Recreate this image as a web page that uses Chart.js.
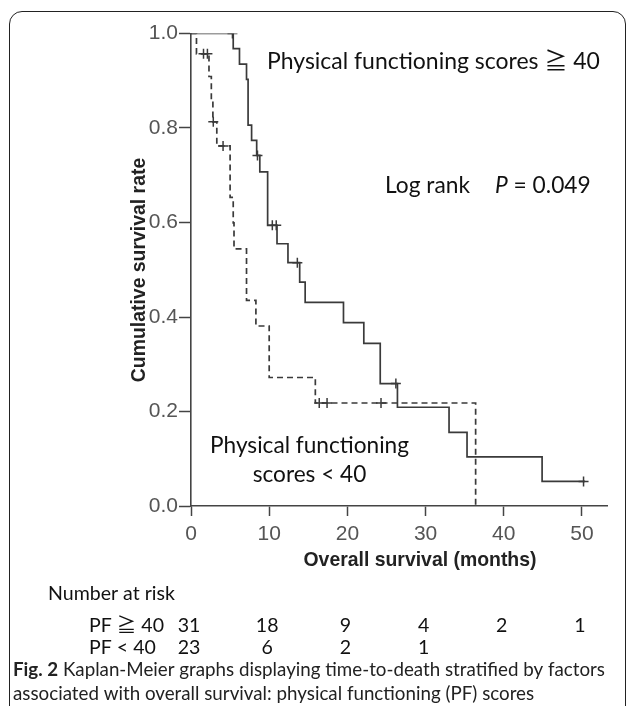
<!DOCTYPE html>
<html><head><meta charset="utf-8">
<script src="https://cdn.jsdelivr.net/npm/chart.js@4.4.1/dist/chart.umd.min.js"></script>
<style>
html,body{margin:0;padding:0;background:#fff;width:627px;height:706px;overflow:hidden;}
#wrap{position:relative;width:627px;height:706px;}
#frame{position:absolute;left:9px;top:11px;width:617px;height:760px;box-sizing:border-box;border:1.6px solid #222;border-radius:13px;}
canvas{position:absolute;left:0;top:0;}
</style></head><body>
<div id="wrap"><div id="frame"></div><canvas id="c" width="627" height="706"></canvas></div>
<script>
// ---- data ----
const highTimes = [0, 5.4, 6.2, 7.1, 7.3, 7.75, 8.4, 8.8, 9.8, 11.0, 12.4, 13.9, 14.6, 19.5, 22.1, 24.2, 26.4, 33.0, 35.3, 44.9, 50.4];
const highSurv  = [1.0, 0.968, 0.935, 0.903, 0.806, 0.774, 0.742, 0.707, 0.594, 0.555, 0.515, 0.474, 0.431, 0.388, 0.344, 0.259, 0.209, 0.156, 0.104, 0.052, 0.052];
const highCensorTimes = [5.3, 8.5, 10.4, 10.9, 13.6, 26.2, 50.2];
const highCensorSurv  = [1.0, 0.742, 0.594, 0.594, 0.515, 0.259, 0.052];

const lowTimes = [0, 0.7, 2.3, 2.6, 2.8, 3.3, 5.0, 5.4, 5.5, 7.1, 8.3, 10.0, 15.9, 36.4];
const lowSurv  = [1.0, 0.957, 0.909, 0.861, 0.813, 0.762, 0.653, 0.599, 0.544, 0.435, 0.381, 0.272, 0.218, 0.0];
const lowCensorTimes = [1.6, 2.1, 2.85, 4.1, 16.4, 17.4, 24.3];
const lowCensorSurv  = [0.957, 0.957, 0.813, 0.762, 0.218, 0.218, 0.218];

const xTickValues = [0, 10, 20, 30, 40, 50];
const riskTimes = [0, 10, 20, 30, 40, 50];
const riskHigh = [31, 18, 9, 4, 2, 1];
const riskLow  = [23, 6, 2, 1];
const riskLabels = ["PF \u2267 40", "PF < 40"];

const textHighGroup = "Physical functioning scores \u2267 40";
const textLogRank = "Log rank";
const textP = "P";
const textPValue = " = 0.049";
const textLowGroup = ["Physical functioning", "scores < 40"];
const yTitle = "Cumulative survival rate";
const xTitle = "Overall survival (months)";
const riskTitle = "Number at risk";
const captionBold = "Fig. 2";
const captionLine1 = " Kaplan-Meier graphs displaying time-to-death stratified by factors";
const captionLine2 = "associated with overall survival: physical functioning (PF) scores";

// ---- helpers ----
const NARROW = "'Liberation Sans Narrow','Arial Narrow','Liberation Sans',Arial,sans-serif";
const HUM = "Lato,'Noto Sans CJK JP','DejaVu Sans',sans-serif";
function pts(xs, ys){ return xs.map((x,i)=>({x:x, y:ys[i]})); }
function fitSize(ctx, text, font, w){
  ctx.font = font.replace('SIZE','100px');
  return 100 * w / ctx.measureText(text).width;
}

const ink = '#3a3a3a';

const textPlugin = {
  id: 'texts',
  afterDraw(chart){
    const ctx = chart.ctx;
    const xs = chart.scales.x;
    ctx.save();
    ctx.textBaseline = 'middle';
    ctx.fillStyle = '#111';

    // group annotation (>= 40)
    let s = fitSize(ctx, textHighGroup, "400 SIZE " + HUM, 333);
    ctx.font = `400 ${s}px ${HUM}`;
    ctx.textAlign = 'left';
    ctx.fillText(textHighGroup, 267, 62);

    // log rank
    const sLR = fitSize(ctx, textLogRank, "400 SIZE " + HUM, 85);
    ctx.font = `400 ${sLR}px ${HUM}`;
    ctx.fillText(textLogRank, 385, 186);
    ctx.font = `italic 400 ${sLR}px ${HUM}`;
    ctx.fillText(textP, 495, 186);
    const pw = ctx.measureText(textP).width;
    ctx.font = `400 ${sLR}px ${HUM}`;
    ctx.fillText(textPValue, 495 + pw, 186);

    // group annotation (< 40)
    s = fitSize(ctx, textLowGroup[0], "400 SIZE " + HUM, 199);
    ctx.font = `400 ${s}px ${HUM}`;
    ctx.textAlign = 'center';
    ctx.fillText(textLowGroup[0], 309.5, 446);
    ctx.fillText(textLowGroup[1], 309.5, 475);

    // axis titles
    const sT = fitSize(ctx, xTitle, "700 SIZE " + NARROW, 233);
    ctx.font = `700 ${sT}px ${NARROW}`;
    ctx.fillStyle = '#222';
    ctx.textAlign = 'center';
    ctx.fillText(xTitle, 420, 561);
    ctx.save();
    ctx.translate(140, 270);
    ctx.rotate(-Math.PI/2);
    ctx.fillText(yTitle, 0, 0);
    ctx.restore();

    // number at risk table
    const sR = fitSize(ctx, riskTitle, "400 SIZE " + HUM, 127);
    ctx.font = `400 ${sR}px ${HUM}`;
    ctx.fillStyle = '#111';
    ctx.textAlign = 'left';
    ctx.fillText(riskTitle, 48, 594);
    ctx.fillText(riskLabels[0], 89, 626);
    ctx.fillText(riskLabels[1], 89, 648);
    ctx.textAlign = 'center';
    riskHigh.forEach((v,i)=>ctx.fillText(String(v), xs.getPixelForValue(riskTimes[i]) - 2, 626));
    riskLow.forEach((v,i)=>ctx.fillText(String(v), xs.getPixelForValue(riskTimes[i]) - 2, 648));

    // caption
    ctx.textAlign = 'left';
    ctx.font = `700 100px ${HUM}`;
    const wb = ctx.measureText(captionBold).width;
    ctx.font = `400 100px ${HUM}`;
    const wr = ctx.measureText(captionLine1).width;
    const sC = 100 * 592 / (wb + wr);
    ctx.fillStyle = '#222';
    ctx.font = `700 ${sC}px ${HUM}`;
    ctx.fillText(captionBold, 13, 670);
    const wb2 = ctx.measureText(captionBold).width;
    ctx.font = `400 ${sC}px ${HUM}`;
    ctx.fillText(captionLine1, 13 + wb2, 670);
    ctx.fillText(captionLine2, 13, 694);
    ctx.restore();
  }
};

const tickFont = {family: NARROW, size: 21};

new Chart(document.getElementById('c'), {
  type: 'scatter',
  data: {
    datasets: [
      {label:'PF >= 40', data: pts(highTimes, highSurv), showLine: true, stepped: 'before',
       borderColor: ink, borderWidth: 1.7, pointRadius: 0, fill: false},
      {label:'PF < 40', data: pts(lowTimes, lowSurv), showLine: true, stepped: 'before',
       borderColor: ink, borderWidth: 1.7, borderDash: [6,4], pointRadius: 0, fill: false},
      {label:'censored >= 40', data: pts(highCensorTimes, highCensorSurv), showLine: false,
       pointStyle: 'cross', pointRadius: 5, borderColor: ink, borderWidth: 1.5},
      {label:'censored < 40', data: pts(lowCensorTimes, lowCensorSurv), showLine: false,
       pointStyle: 'cross', pointRadius: 5, borderColor: ink, borderWidth: 1.5}
    ]
  },
  options: {
    responsive: false,
    animation: false,
    events: [],
    layout: {padding: {left: 0, top: 33.5, right: 20, bottom: 160}},
    plugins: {legend: {display: false}, tooltip: {enabled: false}},
    scales: {
      x: {
        type: 'linear', min: 0, max: 53.2,
        afterFit(s){ s.height = 40; },
        afterBuildTicks(s){ s.ticks = xTickValues.map(v=>({value:v})); },
        ticks: {stepSize: 10, includeBounds: false, font: tickFont, color: '#555', padding: 6, maxRotation: 0, autoSkip: false},
        grid: {display: true, drawOnChartArea: false, drawTicks: true, tickLength: 10, tickColor: '#444', tickWidth: 1.5},
        border: {display: true, color: '#444', width: 1.6}
      },
      y: {
        type: 'linear', min: 0, max: 1,
        afterFit(s){ s.width = 191; },
        ticks: {stepSize: 0.2, font: tickFont, color: '#555', padding: 1, callback: v => Number(v).toFixed(1)},
        grid: {display: true, drawOnChartArea: false, drawTicks: true, tickLength: 12, tickColor: '#444', tickWidth: 1.5},
        border: {display: true, color: '#444', width: 1.6}
      }
    }
  },
  plugins: [textPlugin]
});
</script>
</body></html>
